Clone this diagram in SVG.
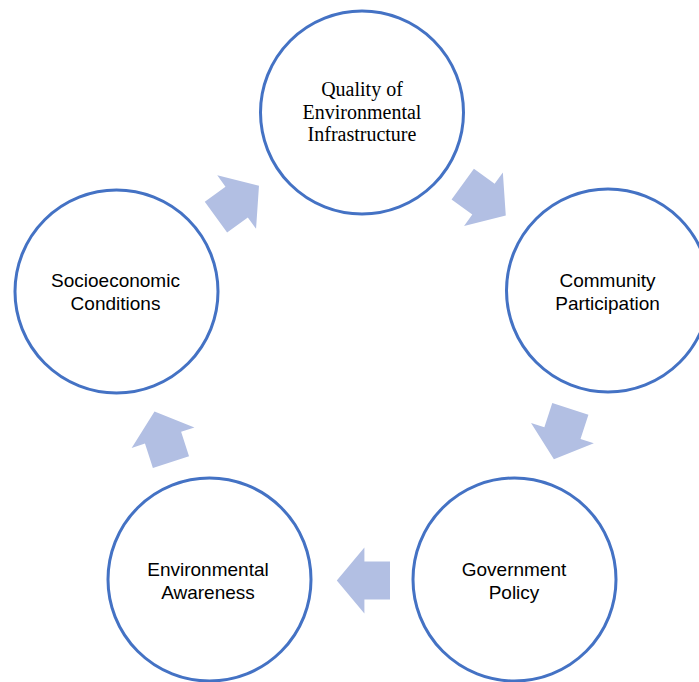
<svg xmlns="http://www.w3.org/2000/svg" width="699" height="682" viewBox="0 0 699 682">
  <defs>
    <style>
      .node { fill: #ffffff; stroke: #4472c4; stroke-width: 3; }
      .sans { font-family: "Liberation Sans", Arial, sans-serif; font-size: 19px; fill: #000000; text-anchor: middle; }
      .serif { font-family: "Liberation Serif", "Times New Roman", serif; font-size: 20px; fill: #000000; text-anchor: middle; }
      .arrow { fill: #b2bfe3; }
    </style>
    <path id="blockArrow" class="arrow" d="M-28,-19 L-2.4,-19 L-2.4,-33 L25.2,0 L-2.4,33 L-2.4,19 L-28,19 Z"/>
  </defs>
  <rect width="699" height="682" fill="#ffffff"/>

  <g id="connectors">
    <use href="#blockArrow" transform="translate(485.4,200.6) rotate(36)"/>
    <use href="#blockArrow" transform="translate(561.7,435.4) rotate(108)"/>
    <use href="#blockArrow" transform="translate(362,580.5) rotate(180)"/>
    <use href="#blockArrow" transform="translate(162.3,435.4) rotate(252)"/>
    <use href="#blockArrow" transform="translate(238.6,200.6) rotate(324)"/>
  </g>

  <g id="node-quality">
    <circle class="node" cx="362" cy="112.5" r="101.5"/>
    <text class="serif" x="362" y="96">Quality of</text>
    <text class="serif" x="362" y="119">Environmental</text>
    <text class="serif" x="362" y="141">Infrastructure</text>
  </g>

  <g id="node-community">
    <circle class="node" cx="608" cy="290.5" r="101.5"/>
    <text class="sans" x="607.5" y="287">Community</text>
    <text class="sans" x="607.5" y="310">Participation</text>
  </g>

  <g id="node-government">
    <circle class="node" cx="514.5" cy="579.5" r="101.5"/>
    <text class="sans" x="514" y="576">Government</text>
    <text class="sans" x="514" y="599">Policy</text>
  </g>

  <g id="node-awareness">
    <circle class="node" cx="209.5" cy="579.5" r="101.5"/>
    <text class="sans" x="208" y="576">Environmental</text>
    <text class="sans" x="208" y="599">Awareness</text>
  </g>

  <g id="node-socioeconomic">
    <circle class="node" cx="116.5" cy="291.5" r="101.5"/>
    <text class="sans" x="115.5" y="287">Socioeconomic</text>
    <text class="sans" x="115.5" y="310">Conditions</text>
  </g>
</svg>
